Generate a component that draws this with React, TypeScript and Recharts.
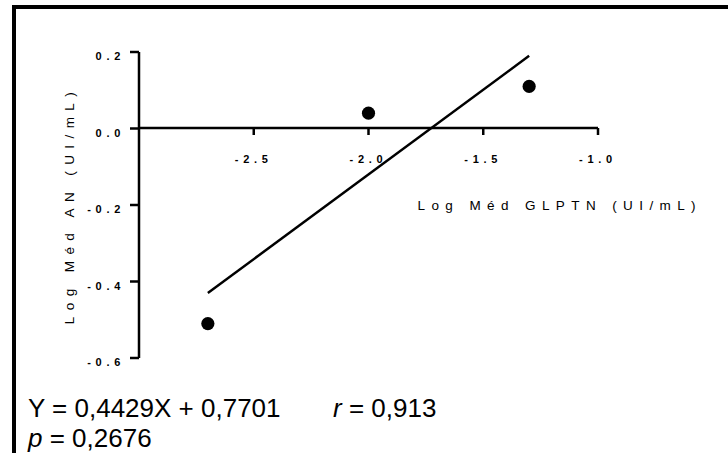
import { Label, Scatter, ScatterChart, XAxis, YAxis } from "recharts";

const FONT = "'Liberation Sans', Arial, sans-serif";

// Log méd GLPTN (x) vs Log méd AN (y)
const xValues = [-2.7, -2.0, -1.3];
const yValues = [-0.51, 0.04, 0.11];

// regression line ends
const fitX = [-2.7, -1.3];
const fitY = [-0.43, 0.19];

const xTicks = [-2.5, -2.0, -1.5, -1.0];
const yTicks = [-0.6, -0.4, -0.2, 0.0, 0.2];
const xDomain = [-3, -1];
const yDomain = [-0.6, 0.2];

const xTitle = "Log Méd GLPTN (UI/mL)";
const yTitle = "Log Méd AN (UI/mL)";
const eqText = "Y = 0,4429X + 0,7701";
const rText = "0,913";
const pText = "0,2676";

const points = xValues.map((x, i) => ({ x, y: yValues[i] }));
const fit = fitX.map((x, i) => ({ x, y: fitY[i] }));

const axisStroke = { stroke: "#000", strokeWidth: 2.5 };

function YTick({ x, y, payload }: any) {
  return (
    <text x={x} y={y} dy={8} textAnchor="end" fontFamily={FONT} fontSize={11}
      fontWeight="bold" letterSpacing={4.7} fill="#000">
      {payload.value.toFixed(1)}
    </text>
  );
}

function XTick({ x, y, payload }: any) {
  return (
    <text x={x} y={y} dy={26} textAnchor="middle" fontFamily={FONT} fontSize={11}
      fontWeight="bold" letterSpacing={4.7} fill="#000">
      {payload.value.toFixed(1)}
    </text>
  );
}

function YTitle({ viewBox }: any) {
  const cx = viewBox.x - 10;
  const cy = viewBox.y + viewBox.height / 2;
  return (
    <text x={cx} y={cy} transform={`rotate(-90 ${cx} ${cy})`} textAnchor="middle"
      dominantBaseline="central" fontFamily={FONT} fontSize={13.5} letterSpacing={6.4} fill="#000">
      {yTitle}
    </text>
  );
}

function XTitle({ viewBox }: any) {
  return (
    <text x={viewBox.x + viewBox.width + 104} y={viewBox.y + 82} textAnchor="end"
      fontFamily={FONT} fontSize={13.5} letterSpacing={6.4} fill="#000">
      {xTitle}
    </text>
  );
}

const Dot = (p: any) => <circle cx={p.cx} cy={p.cy} r={6.6} fill="#000" />;
const NoDot = () => <g />;

export default function App() {
  return (
    <div style={{ position: "absolute", left: 0, top: 0, width: 728, height: 453, background: "#fff", overflow: "hidden" }}>
      <div style={{ position: "absolute", left: 12, top: 5, width: 800, height: 600,
        borderTop: "4px solid #000", borderLeft: "4px solid #000" }} />

      {/* main plot: y axis, points, regression line */}
      <div style={{ position: "absolute", left: 0, top: 0 }}>
        <ScatterChart width={728} height={453} margin={{ top: 52, right: 130, bottom: 95, left: 79 }}>
          <XAxis type="number" dataKey="x" domain={xDomain} hide allowDataOverflow />
          <YAxis type="number" dataKey="y" domain={yDomain} ticks={yTicks} interval={0} width={60}
            axisLine={axisStroke} tickLine={axisStroke} tickSize={9} tickMargin={5}
            tick={<YTick />} allowDataOverflow>
            <Label content={<YTitle />} />
          </YAxis>
          <Scatter data={fit} line={axisStroke} shape={NoDot} isAnimationActive={false} />
          <Scatter data={points} fill="#000" shape={Dot} isAnimationActive={false} />
        </ScatterChart>
      </div>

      {/* x axis crossing at y = 0 */}
      <div style={{ position: "absolute", left: 0, top: 0 }}>
        <ScatterChart width={728} height={218} margin={{ top: 52, right: 130, bottom: 0, left: 139 }}>
          <XAxis type="number" dataKey="x" domain={xDomain} ticks={xTicks} interval={0} height={90}
            axisLine={axisStroke} tickLine={axisStroke} tickSize={7} tickMargin={2}
            tick={<XTick />} allowDataOverflow>
            <Label content={<XTitle />} />
          </XAxis>
          <YAxis type="number" dataKey="y" domain={[0, 0.2]} hide allowDataOverflow />
          <Scatter data={points} shape={NoDot} isAnimationActive={false} />
        </ScatterChart>
      </div>

      <svg width={728} height={453} style={{ position: "absolute", left: 0, top: 0 }}>
        <text x={28} y={417} fontFamily={FONT} fontSize={26} fill="#000">{eqText}</text>
        <text x={333} y={417} fontFamily={FONT} fontSize={26} fill="#000">
          <tspan fontStyle="italic">r</tspan> = {rText}
        </text>
        <text x={28} y={447} fontFamily={FONT} fontSize={26} fill="#000">
          <tspan fontStyle="italic">p</tspan> = {pText}
        </text>
      </svg>
    </div>
  );
}
